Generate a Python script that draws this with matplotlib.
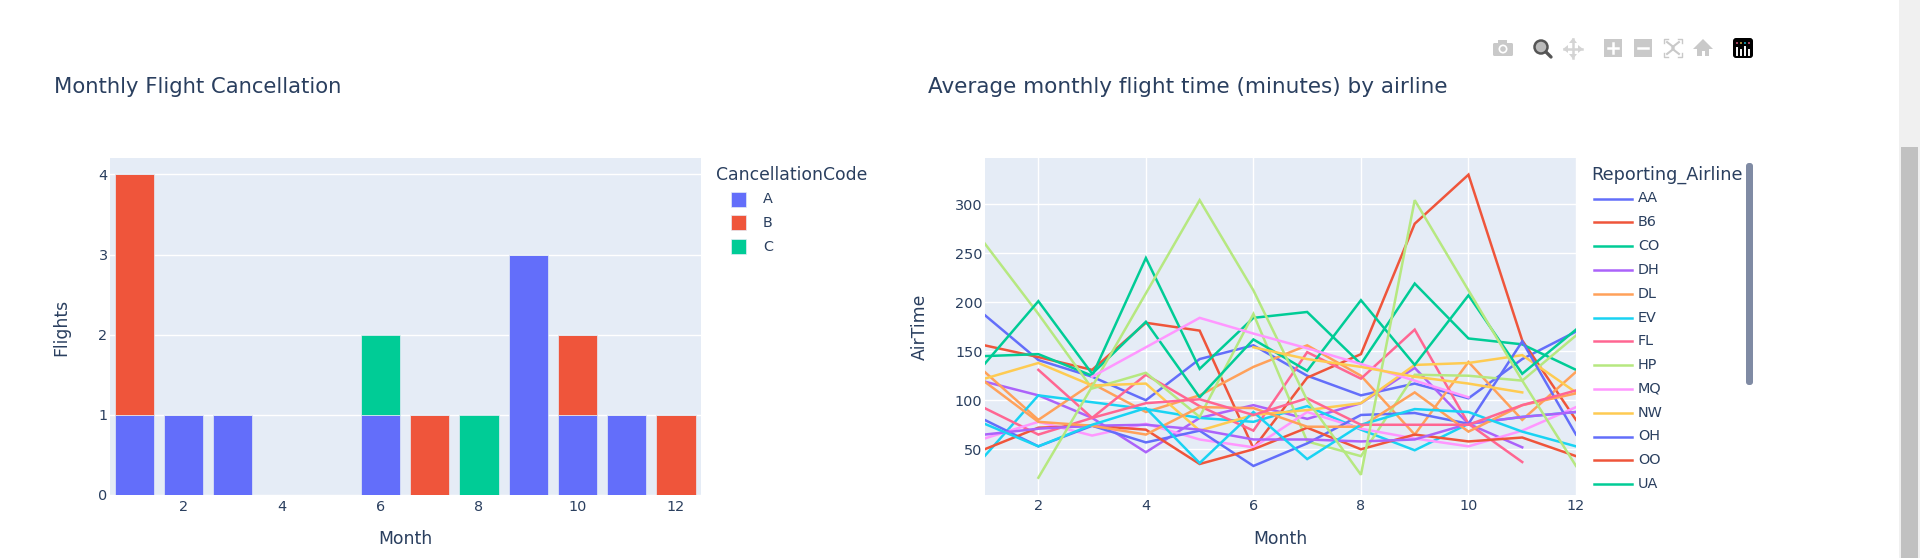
#!/usr/bin/env python3
# -*- coding: utf-8 -*-
import numpy as np
import matplotlib
matplotlib.use('Agg')
import matplotlib.pyplot as plt
from matplotlib.patches import Rectangle, FancyBboxPatch, Circle, Polygon

W, H = 1920, 558
INK = '#2a3f5f'
BG = '#E5ECF6'
BLUE, RED, GREEN, PURPLE, ORANGE, CYAN, PINK, LIME, MAGENTA, YELLOW = (
    '#636EFA', '#EF553B', '#00CC96', '#AB63FA', '#FFA15A',
    '#19D3F3', '#FF6692', '#B6E880', '#FF97FF', '#FECB52')

# left chart
months = np.arange(1, 13)
cancel_a = [1, 1, 1, 0, 0, 1, 0, 0, 3, 1, 1, 0]
cancel_b = [3, 0, 0, 0, 0, 0, 1, 0, 0, 1, 0, 1]
cancel_c = [0, 0, 0, 0, 0, 1, 0, 1, 0, 0, 0, 0]
cancel_codes = ['A', 'B', 'C']

# right chart, nan = airline has no flights that month
nan = np.nan
aa = [187, 141, 124, 100, 142, 156, 125, 105, 117, 102, 142, 170]
b6 = [156, 144, 131, 179, 171, 51, 123, 147, 280, 330, 161, 80]
co = [145, 147, 125, 245, 132, 184, 190, 137, 219, 163, 157, 131]
dh = [119, 105, 82, 47, 82, 95, 81, 97, 133, 76, 52, nan]
dl = [129, 80, 117, 88, 105, 134, 156, 125, 65, 139, 80, 129]
ev = [43, 105, 98, 91, 82, 78, 94, 70, 49, 76, 83, 88]
fl = [92, 65, 82, 126, 94, 69, 149, 122, 172, 76, 37, nan]
hp = [260, 188, 112, 128, 83, 188, 58, 43, 126, 125, 120, 166]
mq = [61, 78, 64, 76, 60, 52, 88, 71, 61, 53, 69, 93]
nw = [122, 138, 115, 117, 69, 85, 90, 97, 136, 138, 146, 108]
oh = [80, 53, 74, 57, 69, 33, 56, 85, 87, 76, 160, 65]
oo = [50, 72, 74, 70, 35, 50, 72, 50, 65, 58, 62, 43]
ua = [137, 201, 127, 180, 103, 162, 130, 202, 136, 207, 127, 172]
us = [65, 71, 74, 75, 70, 60, 60, 58, 60, 76, 83, 88]
wn = [119, 78, 74, 65, 93, 92, 73, 73, 108, 68, 95, 107]
xe = [76, 53, 75, 92, 36, 88, 40, 75, 91, 88, 68, 53]
yv = [nan, 131, 82, 97, 101, 85, 102, 75, 75, 75, 95, 110]
s18 = [nan, 21, 114, 209, 304, 212, 100, 24, 304, 212, 120, 33]
s19 = [nan, nan, 124, 154, 184, 168, 153, 137, 120, 103, nan, nan]
s20 = [nan, nan, nan, nan, nan, 154, 142, 134, 124, 117, 108, nan]

airline_names = ['AA', 'B6', 'CO', 'DH', 'DL', 'EV', 'FL', 'HP', 'MQ', 'NW',
                 'OH', 'OO', 'UA']
airtime = [aa, b6, co, dh, dl, ev, fl, hp, mq, nw, oh, oo, ua, us, wn, xe, yv,
           s18, s19, s20]
cycle = [BLUE, RED, GREEN, PURPLE, ORANGE, CYAN, PINK, LIME, MAGENTA, YELLOW]


def px_axes(fig, left, top, right, bottom):
    return fig.add_axes([left / W, 1 - bottom / H, (right - left) / W,
                         (bottom - top) / H])


def style_axes(ax):
    ax.set_facecolor(BG)
    ax.set_axisbelow(True)
    ax.grid(True, color='white', lw=1.0)
    for s in ax.spines.values():
        s.set_visible(False)
    ax.tick_params(length=0, labelsize=10.4, labelcolor=INK, pad=1.5)
    ax.tick_params(axis='x', pad=3.5)


def toolbar(ov):
    g = '#c9c9c9'
    # camera
    ov.add_patch(FancyBboxPatch((1493, 43), 20, 13, boxstyle='round,pad=0,rounding_size=1.5', fc=g, ec='none'))
    ov.add_patch(Rectangle((1498, 40), 9, 3, fc=g, ec='none'))
    ov.add_patch(Circle((1503, 49), 4.5, fc='white', ec='none'))
    ov.add_patch(Circle((1503, 49), 2.8, fc=g, ec='none'))
    # zoom, active
    ov.add_patch(Circle((1541, 47), 6.5, fc='#bbbbbb', ec='#555555', lw=1.8))
    ov.plot([1546, 1551], [52, 57], color='#555555', lw=2.4, solid_capstyle='round')
    # pan
    ov.plot([1564, 1582], [49, 49], color='#d4d4d4', lw=1.8)
    ov.plot([1573, 1573], [39, 58], color='#d4d4d4', lw=1.8)
    for p in ([(1563, 49), (1568, 45), (1568, 53)], [(1583, 49), (1578, 45), (1578, 53)],
              [(1573, 38), (1569, 43), (1577, 43)], [(1573, 59), (1569, 54), (1577, 54)]):
        ov.add_patch(Polygon(p, fc='#d4d4d4', ec='none'))
    # zoom in / out
    ov.add_patch(Rectangle((1604, 39), 18, 18, fc=g, ec='none'))
    ov.plot([1608, 1618], [48, 48], color='white', lw=1.8)
    ov.plot([1613, 1613], [43, 53], color='white', lw=1.8)
    ov.add_patch(Rectangle((1634, 39), 18, 18, fc=g, ec='none'))
    ov.plot([1638, 1648], [48, 48], color='white', lw=1.8)
    # autoscale
    for sx, sy in ((1664, 39), (1682, 39), (1664, 57), (1682, 57)):
        dx = 4 if sx == 1664 else -4
        dy = 4 if sy == 39 else -4
        ov.plot([sx + dx, sx, sx], [sy, sy, sy + dy], color=g, lw=1)
        ov.plot([sx + dx / 1.3, sx + dx * 2.4], [sy + dy / 1.3, sy + dy * 2.4 * 0.85], color=g, lw=1.5)
    # home
    ov.add_patch(Polygon([(1693, 49), (1703, 39), (1713, 49)], fc=g, ec='none'))
    ov.add_patch(Rectangle((1697, 49), 12, 7, fc=g, ec='none'))
    ov.add_patch(Rectangle((1701.5, 51), 3, 5, fc='white', ec='none'))
    # logo
    ov.add_patch(FancyBboxPatch((1733, 38), 20, 20, boxstyle='round,pad=0,rounding_size=3', fc='black', ec='none'))
    for x0, top, dot in ((1737, 48, PINK), (1741, 50, '#FECB52'), (1745, 47, CYAN), (1749, 50, PINK)):
        ov.plot([x0, x0], [top, 55], color='white', lw=1.4)
        ov.add_patch(Circle((x0, 43), 0.9, fc=dot, ec='none'))


def grafico():
    fig = plt.figure(figsize=(W / 100, H / 100), dpi=100, facecolor='white')

    ax1 = px_axes(fig, 109.6, 158, 700.6, 495)
    style_axes(ax1)
    a = np.array(cancel_a)
    b = np.array(cancel_b)
    c = np.array(cancel_c)
    for vals, base, col in ((a, 0 * a, BLUE), (b, a, RED), (c, a + b, GREEN)):
        ax1.bar(months, vals, 0.8, bottom=base, color=col, edgecolor=BG, linewidth=0.5)
    ax1.set_xlim(0.5, 12.5)
    ax1.set_ylim(0, 4.205)
    ax1.set_xticks(range(2, 13, 2))
    ax1.set_yticks(range(5))
    ax1.grid(False, axis='x')

    ax2 = px_axes(fig, 984.6, 158, 1576, 494.5)
    style_axes(ax2)
    for i, vals in enumerate(airtime):
        ax2.plot(months, vals, color=cycle[i % 10], lw=1.8, solid_joinstyle='miter')
    ax2.set_xlim(1, 12)
    ax2.set_ylim(3.9, 347)
    ax2.set_xticks(range(2, 13, 2))
    ax2.set_yticks(range(50, 301, 50))

    # everything outside the plot areas is placed in screen pixels
    ov = fig.add_axes([0, 0, 1, 1], facecolor='none')
    ov.set_xlim(0, W)
    ov.set_ylim(H, 0)
    ov.axis('off')

    def label(x, y, s, size=12.4, **kw):
        kw.setdefault('ha', 'left')
        ov.text(x, y, s, fontsize=size, color=INK, va='center', **kw)

    label(54, 87, 'Monthly Flight Cancellation', 15.2)
    label(928, 87, 'Average monthly flight time (minutes) by airline', 15.5)
    label(405.4, 539, 'Month', ha='center')
    label(1280, 539, 'Month', ha='center')
    label(61.5, 327, 'Flights', ha='center', rotation=90)
    label(919.5, 327, 'AirTime', ha='center', rotation=90)

    label(716, 175, 'CancellationCode')
    for i, (code, col) in enumerate(zip(cancel_codes, cycle)):
        y = 199 + i * 23.8
        ov.add_patch(Rectangle((730.7, y - 7.5), 15, 15, fc=col, ec=BG, lw=0.5))
        label(763, y, code, 10.4)

    label(1591.7, 175, 'Reporting_Airline', 12.7)
    for i, name in enumerate(airline_names):
        y = 198.5 + i * 23.8
        ov.plot([1594, 1632], [y, y], color=cycle[i % 10], lw=1.8)
        label(1638, y, name, 10.4)
    ov.add_patch(FancyBboxPatch((1746, 163), 7, 222, boxstyle='round,pad=0,rounding_size=3',
                                fc='#808BA4', ec='none'))

    # browser scrollbar
    ov.add_patch(Rectangle((1899, 0), 21, H, fc='#f0f0f0', ec='none'))
    ov.add_patch(Rectangle((1901, 147), 17, H - 147, fc='#c1c1c1', ec='none'))

    toolbar(ov)
    ov.set_xlim(0, W)
    ov.set_ylim(H, 0)

    plt.savefig('out.png', dpi=100, facecolor='white')


if __name__ == "__main__":
    grafico()
